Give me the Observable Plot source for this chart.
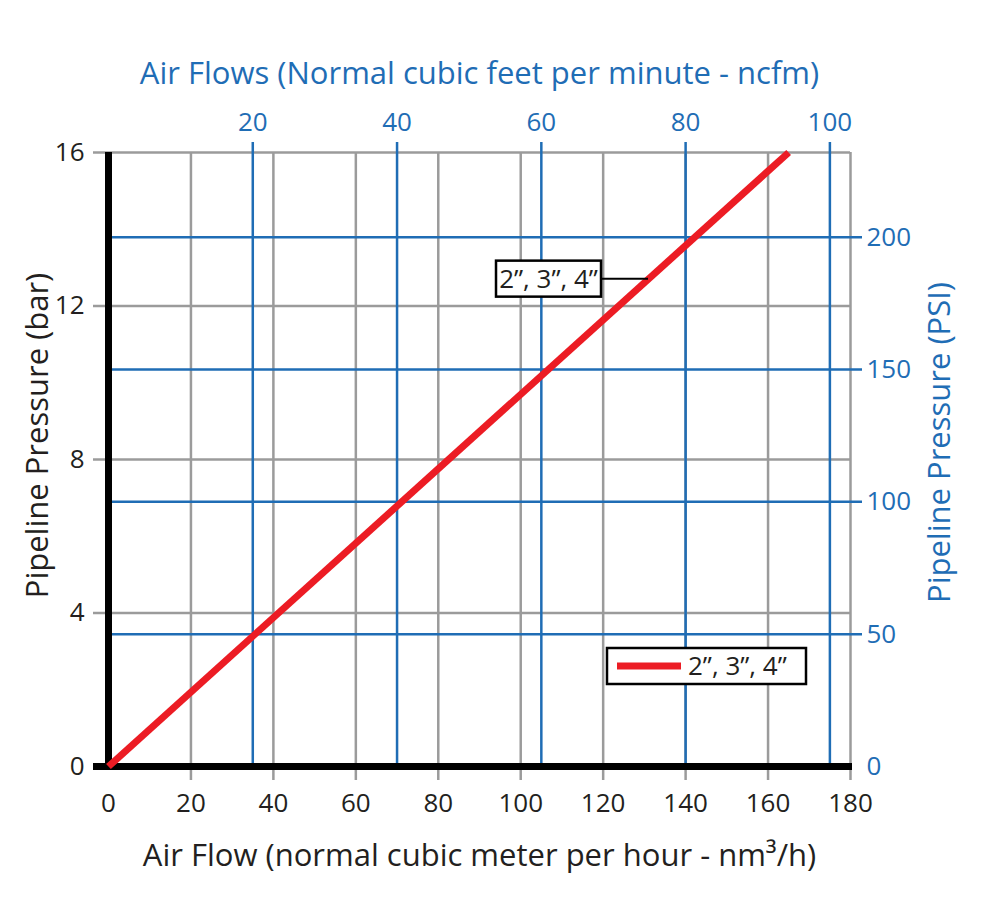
<!DOCTYPE html>
<html><head><meta charset="utf-8">
<script src="https://cdn.jsdelivr.net/npm/d3@7"></script>
<script src="https://cdn.jsdelivr.net/npm/@observablehq/plot@0.6"></script>
<style>body{margin:0;background:#fff;} #chart{width:1000px;height:901px;}</style>
</head><body><div id="chart"></div>
<script>
// ---- data ----
const flowTicks = [0, 20, 40, 60, 80, 100, 120, 140, 160, 180];   // nm3/h
const barTicks = [0, 4, 8, 12, 16];                               // bar
const ncfmTicks = [20, 40, 60, 80, 100];                          // ncfm (top axis)
const psiTicks = [0, 50, 100, 150, 200];                          // PSI (right axis)
const seriesName = "2\u201D, 3\u201D, 4\u201D";
const seriesFlow = [0, 165];
const seriesBar = [0, 16];
const annotationAt = [131, 12.7]; // where the callout touches the line (flow, bar)
const NCFM_TO_M3H = 1.75;  // conversion as drawn on the chart
const BAR_TO_PSI = 14.5;

const xTitle = "Air Flow (normal cubic meter per hour - nm\u00B3/h)";
const topTitle = "Air Flows (Normal cubic feet per minute - ncfm)";
const yTitle = "Pipeline Pressure (bar)";
const rightTitle = "Pipeline Pressure (PSI)";

const blue = "#1f6db5", gray = "#9b9b9b", red = "#ec1c24", ink = "#231f20";
const points = seriesFlow.map((f, i) => ({flow: f, bar: seriesBar[i]}));

const plot = Plot.plot({
  width: 1000, height: 901,
  marginLeft: 108, marginRight: 150, marginTop: 152, marginBottom: 135,
  style: {fontFamily: "'Open Sans', sans-serif", fontSize: "26px", color: ink, background: "#fff"},
  x: {domain: [0, 180]},
  y: {domain: [0, 16]},
  marks: [
    Plot.ruleX(flowTicks.filter(d => d > 0), {stroke: gray, strokeWidth: 2.5, insetBottom: -14}),
    Plot.ruleY(barTicks.filter(d => d > 0), {stroke: gray, strokeWidth: 2.5, insetLeft: -15}),
    Plot.ruleX(ncfmTicks, {x: d => d * NCFM_TO_M3H, stroke: blue, strokeWidth: 2.5, insetTop: -10}),
    Plot.ruleY(psiTicks.filter(d => d > 0), {y: d => d / BAR_TO_PSI, stroke: blue, strokeWidth: 2.5, insetRight: -12}),
    Plot.ruleX([0], {stroke: "#000", strokeWidth: 7}),
    Plot.ruleY([0], {stroke: "#000", strokeWidth: 7, insetLeft: -15, insetRight: -2}),
    Plot.line(points, {x: "flow", y: "bar", stroke: red, strokeWidth: 7, strokeLinecap: "butt"}),
    Plot.axisY(barTicks, {anchor: "left", tickSize: 0, tickPadding: 24, label: null, fontSize: 26}),
    Plot.axisX(flowTicks, {anchor: "bottom", tickSize: 0, tickPadding: 27, label: null, fontSize: 26}),
    Plot.axisX(ncfmTicks.map(d => d * NCFM_TO_M3H), {anchor: "top", tickSize: 0, tickPadding: 22, label: null, fontSize: 26,
      tickFormat: d => Math.round(d / NCFM_TO_M3H), color: blue}),
    Plot.axisY(psiTicks.map(d => d / BAR_TO_PSI), {anchor: "right", tickSize: 0, tickPadding: 16, label: null, fontSize: 26,
      tickFormat: d => Math.round(d * BAR_TO_PSI), color: blue}),
    Plot.text([xTitle], {text: d => d, frameAnchor: "bottom", dy: 99, fontSize: 31, fill: ink}),
    Plot.text([topTitle], {text: d => d, frameAnchor: "top", dy: -91, fontSize: 31, fill: blue}),
    Plot.text([yTitle], {text: d => d, frameAnchor: "left", textAnchor: "middle", rotate: -90, dx: -70, dy: -24, fontSize: 31, fill: ink}),
    Plot.text([rightTitle], {text: d => d, frameAnchor: "right", textAnchor: "middle", rotate: -90, dx: 90, dy: -17, fontSize: 31, fill: blue})
  ]
});

document.getElementById("chart").appendChild(plot);

// callout and legend drawn with the plot's own scales
const sx = plot.scale("x"), sy = plot.scale("y");
const svg = d3.select(plot);
const g = svg.append("g").attr("font-family", "'Open Sans', sans-serif").attr("font-size", 26);

const px = sx.apply(annotationAt[0]), py = sy.apply(annotationAt[1]);
const bw = 105, bh = 36, bRight = px - 47;
g.append("line").attr("x1", bRight).attr("x2", px).attr("y1", py).attr("y2", py)
  .attr("stroke", "#000").attr("stroke-width", 2);
g.append("rect").attr("x", bRight - bw).attr("y", py - bh / 2).attr("width", bw).attr("height", bh)
  .attr("fill", "#fff").attr("stroke", "#000").attr("stroke-width", 2.5);
g.append("text").attr("x", bRight - bw / 2).attr("y", py).attr("dy", "0.35em")
  .attr("text-anchor", "middle").attr("fill", ink).text(seriesName);

const fr = sx.apply(180), fb = sy.apply(0);
const lw = 199, lh = 36, lRight = fr - 44, lBottom = fb - 82;
const lx = lRight - lw, ly = lBottom - lh;
g.append("rect").attr("x", lx).attr("y", ly).attr("width", lw).attr("height", lh)
  .attr("fill", "#fff").attr("stroke", "#000").attr("stroke-width", 2.5);
g.append("line").attr("x1", lx + 10).attr("x2", lx + 74).attr("y1", ly + lh / 2).attr("y2", ly + lh / 2)
  .attr("stroke", red).attr("stroke-width", 7);
g.append("text").attr("x", lx + 81).attr("y", ly + lh / 2).attr("dy", "0.35em")
  .attr("text-anchor", "start").attr("fill", ink).text(seriesName);
</script>
</body></html>
